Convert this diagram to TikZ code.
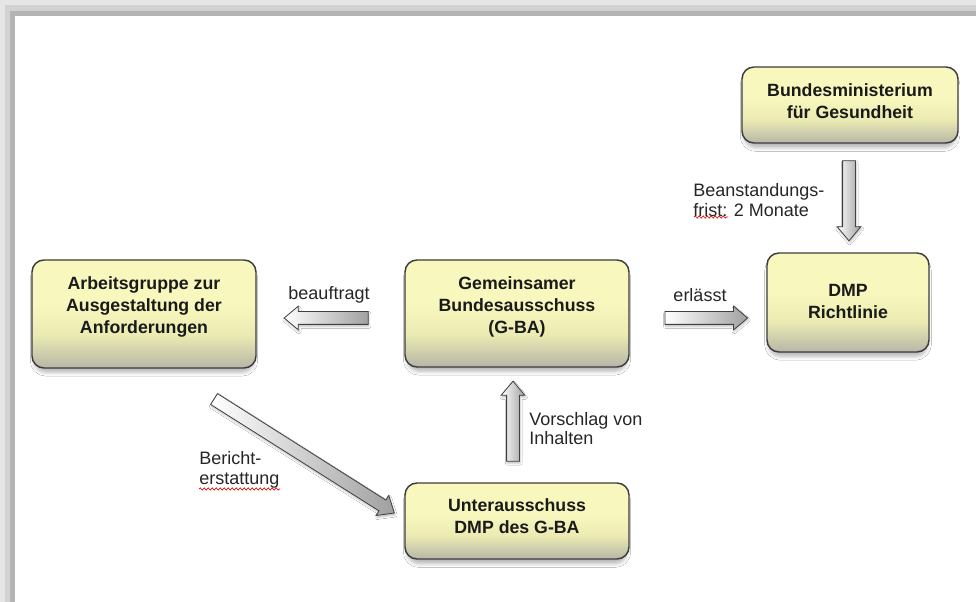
\documentclass[tikz,border=0pt]{standalone}
\usepackage{fontspec}
\setmainfont{Liberation Sans}
\usetikzlibrary{shapes.arrows,shadows.blur,decorations.pathmorphing}
\definecolor{boxtop}{HTML}{F8F8BE}
\definecolor{boxmid}{HTML}{EAEAB2}
\definecolor{boxbot}{HTML}{B6B6A8}
\definecolor{boxline}{HTML}{3C3C3C}
\definecolor{txt}{HTML}{1A1A1A}
\definecolor{lbltxt}{HTML}{262626}
\definecolor{arrline}{HTML}{404040}
\definecolor{arrhead}{HTML}{A0A0A0}
\definecolor{fr1}{HTML}{E6E6E6}
\definecolor{fr2}{HTML}{D2D2D2}
\definecolor{fr3}{HTML}{B4B4B4}
\pgfdeclareverticalshading{boxshade}{100bp}{color(0bp)=(boxbot); color(25bp)=(boxbot); color(40bp)=(boxmid); color(55bp)=(boxtop); color(100bp)=(boxtop)}
\begin{document}
\begin{tikzpicture}[x=0.75pt,y=-0.75pt,
  box/.style={rounded corners=9pt, draw=boxline, line width=1.1pt, shading=boxshade, inner sep=0pt,
    blur shadow={shadow xshift=0pt, shadow yshift=-4pt, shadow blur radius=3pt, shadow blur steps=6, shadow opacity=30, shadow scale=0.98}},
  boxtxt/.style={align=center, font=\fontsize{13.3}{16.5}\selectfont\bfseries, text=txt, inner sep=0pt},
  barrow/.style={single arrow, draw=arrline, line width=0.6pt, left color=white, right color=arrhead,
    inner xsep=0pt, inner ysep=4.5pt, text height=0pt, text depth=0pt,
    single arrow head extend=4.1pt, single arrow tip angle=80,
    blur shadow={shadow xshift=0.5pt, shadow yshift=-1.5pt, shadow blur radius=1.5pt, shadow opacity=25}},
  lbl/.style={font=\fontsize{13.5}{14.5}\selectfont, text=lbltxt, align=left, inner sep=0pt},
  squiggle/.style={red!85!black, line width=0.5pt, decorate, decoration={snake, amplitude=0.8pt, segment length=3pt}}
]
\useasboundingbox (0,0) rectangle (976,602);
\fill[white] (0,0) rectangle (976,602);
% page frame
\fill[fr1] (0,0) rectangle (976,5);
\fill[fr2] (0,5) rectangle (976,11);
\fill[fr3] (0,11) rectangle (976,16);
\fill[fr1] (0,0) rectangle (5,602);
\fill[fr2] (5,5) rectangle (10,602);
\fill[fr3] (10,11) rectangle (15,602);

% boxes
\node[box, minimum width=162pt, minimum height=57pt,
  label={[boxtxt, yshift=3pt]center:{Bundesministerium\\für Gesundheit}}] (bmg) at (850,105) {};
\node[box, minimum width=121.5pt, minimum height=74.25pt,
  label={[boxtxt, yshift=0.5pt]center:{DMP\\Richtlinie}}] (dmp) at (848,302.5) {};
\node[box, minimum width=168pt, minimum height=80.25pt,
  label={[boxtxt, yshift=5pt]center:{Gemeinsamer\\Bundesausschuss\\(G-BA)}}] (gba) at (517,313.5) {};
\node[box, minimum width=168pt, minimum height=81pt,
  label={[boxtxt, yshift=5pt]center:{Arbeitsgruppe zur\\Ausgestaltung der\\Anforderungen}}] (ag) at (144,314) {};
\node[box, minimum width=168pt, minimum height=57pt,
  label={[boxtxt, yshift=3.5pt]center:{Unterausschuss\\DMP des G-BA}}] (ua) at (517,521) {};

% block arrows
\node[barrow, minimum height=60pt, rotate=-90] (a1) at (849,197) {};
\node[barrow, minimum height=63pt, rotate=180] (a2) at (330,318) {};
\node[barrow, minimum height=62pt] (a3) at (702.5,318) {};
\node[barrow, minimum height=60pt, rotate=90] (a4) at (513,425) {};
\node[barrow, minimum height=160pt, rotate=-32.3] (a5) at (301,454) {};

% labels
\node[lbl] (l1) at (329,295) {beauftragt};
\node[lbl] (l2) at (700,295) {erlässt};
\node[lbl, anchor=west] (l3) at (693,200) {Beanstandungs-\\frist: 2 Monate};
\node[lbl, anchor=west] (l4) at (529,428.5) {Vorschlag von\\Inhalten};
\node[lbl, anchor=west] (l5) at (199,470) {Bericht-\\erstattung};

% spell-check marks
\draw[squiggle] (694,217) -- (728,217);
\draw[squiggle] (199,489) -- (280,489);
\end{tikzpicture}
\end{document}
